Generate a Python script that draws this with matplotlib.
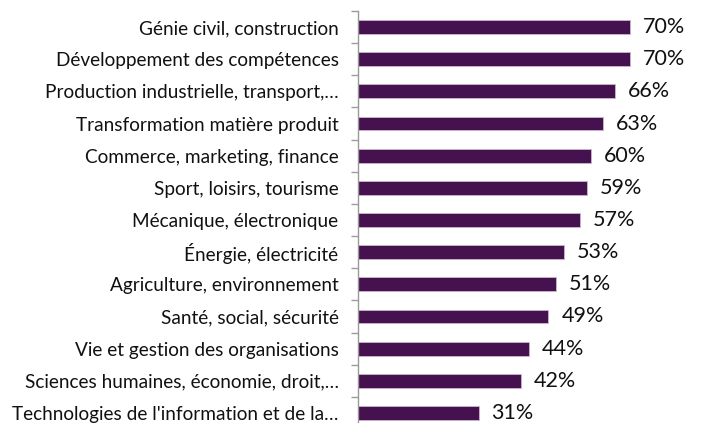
import matplotlib
matplotlib.use("Agg")
import matplotlib.pyplot as plt
import numpy as np

categories = [
    "Génie civil, construction",
    "Développement des compétences",
    "Production industrielle, transport,…",
    "Transformation matière produit",
    "Commerce, marketing, finance",
    "Sport, loisirs, tourisme",
    "Mécanique, électronique",
    "Énergie, électricité",
    "Agriculture, environnement",
    "Santé, social, sécurité",
    "Vie et gestion des organisations",
    "Sciences humaines, économie, droit,…",
    "Technologies de l'information et de la…",
]
values = [70, 70, 66, 63, 60, 59, 57, 53, 51, 49, 44, 42, 31]

plt.rcParams['font.family'] = ['Lato', 'DejaVu Sans']

fig = plt.figure(figsize=(7.04, 4.23), dpi=100)
W, H = 704, 423
left, right, top, bottom = 358, 704, 11, 429
ax = fig.add_axes([left / W, (H - bottom) / H, (right - left) / W, (bottom - top) / H])

y = np.arange(len(categories))
ax.barh(y, values, height=0.43, color="#46114f", edgecolor="#c9b8cc", linewidth=0.6)
ax.set_ylim(len(categories) - 0.5, -0.5)
ax.set_xlim(0, 89)

for yi, v in zip(y, values):
    ax.text(v + 3.3, yi, f"{v}%", va="center", ha="left", fontsize=15.5, color="#111111")

ax.set_yticks(y)
ax.set_yticklabels(categories, fontsize=13.7, color="#111111")
ax.tick_params(axis="y", which="major", length=0, pad=14)
ax.set_yticks(np.arange(-0.5, len(categories), 1), minor=True)
ax.tick_params(axis="y", which="minor", length=5, color="#9a9a9a", width=1)
ax.set_xticks([])
for s in ["top", "right", "bottom"]:
    ax.spines[s].set_visible(False)
ax.spines["left"].set_color("#9a9a9a")
ax.spines["left"].set_linewidth(1)

fig.savefig("out.png", dpi=100)
